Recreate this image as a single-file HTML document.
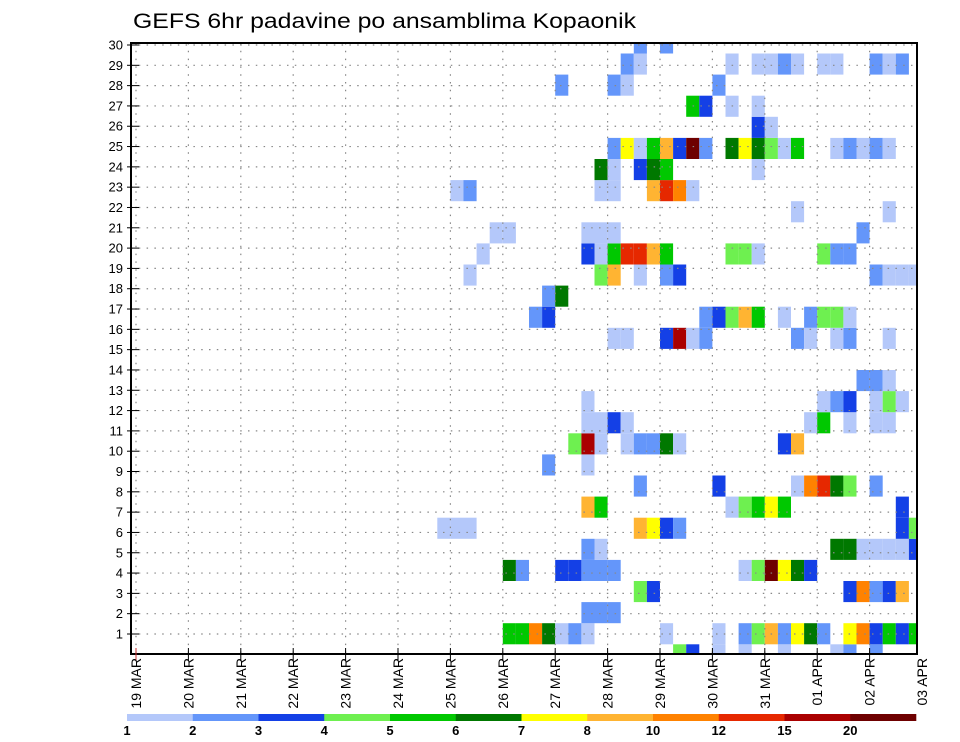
<!DOCTYPE html>
<html><head><meta charset="utf-8"><title>GEFS 6hr padavine</title>
<style>html,body{margin:0;padding:0;background:#fff;}svg{display:block;font-family:"Liberation Sans",sans-serif;}</style>
</head><body>
<svg id="chart" width="960" height="742" viewBox="0 0 960 742" xmlns="http://www.w3.org/2000/svg">
<defs><clipPath id="plotClip"><rect x="131" y="43" width="786" height="611"/></clipPath></defs>
<text x="133" y="28" font-size="21" textLength="503" lengthAdjust="spacingAndGlyphs" fill="#000">GEFS 6hr padavine po ansamblima Kopaonik</text>
<g id="cells" clip-path="url(#plotClip)"></g>
<g id="grid"></g>
<rect x="131" y="43" width="786" height="611" fill="none" stroke="#000" stroke-width="2"/>
<g id="yaxis"></g>
<g id="xaxis"></g>
<g id="legend"></g>
</svg>
<script>
// ---- data ----
const dayLabels = ["19 MAR","20 MAR","21 MAR","22 MAR","23 MAR","24 MAR","25 MAR","26 MAR","27 MAR","28 MAR","29 MAR","30 MAR","31 MAR","01 APR","02 APR","03 APR"];
const yTicks = [1,2,3,4,5,6,7,8,9,10,11,12,13,14,15,16,17,18,19,20,21,22,23,24,25,26,27,28,29,30];
const levelLabels = ["1","2","3","4","5","6","7","8","10","12","15","20"];
const levelColors = ["#b4c8fa","#6496fa","#1440e6","#6ef050","#00c800","#007800","#ffff00","#ffb432","#ff8200","#e62800","#aa0000","#6e0000"];
// cells per ensemble member: "timeStep:colorClass" (timeStep = 6h steps from 19 MAR 00Z)
const member00 = "41:3 42:2 44:0 46:0 49:0 53:0 54:1 56:1";
const member01 = "28:4 29:4 30:8 31:5 32:0 33:1 34:0 40:0 44:0 46:1 47:3 48:7 49:1 50:6 51:5 52:1 54:6 55:8 56:2 57:4 58:2 59:4";
const member02 = "34:1 35:1 36:1";
const member03 = "38:3 39:2 54:2 55:8 56:1 57:2 58:7";
const member04 = "28:5 29:1 32:2 33:2 34:1 35:1 36:1 46:0 47:3 48:11 49:6 50:5 51:2";
const member05 = "34:1 35:0 53:5 54:5 55:0 56:0 57:0 58:0 59:2";
const member06 = "23:0 24:0 25:0 38:7 39:6 40:2 41:1 58:2 59:3";
const member07 = "34:7 35:4 45:0 46:3 47:4 48:6 49:4 58:2";
const member08 = "38:1 44:2 50:0 51:8 52:9 53:5 54:3 56:1";
const member09 = "31:1 34:0";
const member10 = "33:3 34:10 35:0 37:0 38:1 39:1 40:5 41:0 49:2 50:7";
const member11 = "34:0 35:0 36:2 37:0 51:0 52:4 54:0 56:0 57:0";
const member12 = "34:0 52:0 53:1 54:2 56:0 57:3 58:0";
const member13 = "55:1 56:1 57:0";
const member14 = "";
const member15 = "36:0 37:0 40:2 41:10 42:0 43:1 50:1 51:0 53:0 54:1 57:0";
const member16 = "30:1 31:2 43:1 44:2 45:3 46:7 47:4 49:0 51:1 52:3 53:3 54:0";
const member17 = "31:1 32:5";
const member18 = "25:0 35:3 36:7 38:0 40:1 41:2 56:1 57:0 58:0 59:0";
const member19 = "26:0 34:2 35:0 36:4 37:9 38:9 39:7 40:4 45:3 46:3 47:0 52:3 53:1 54:1";
const member20 = "27:0 28:0 34:0 35:0 36:0 55:1";
const member21 = "50:0 57:0";
const member22 = "24:0 25:1 35:0 36:0 39:7 40:9 41:8 42:0";
const member23 = "35:5 36:0 38:2 39:5 40:4 47:0";
const member24 = "36:1 37:6 38:0 39:4 40:7 41:2 42:11 43:1 45:5 46:6 47:5 48:3 49:0 50:4 53:0 54:1 55:0 56:1 57:0";
const member25 = "47:2 48:0";
const member26 = "42:4 43:2 45:0 47:0";
const member27 = "32:1 36:1 37:0 44:1";
const member28 = "37:1 38:0 45:0 47:0 48:0 49:1 50:0 52:0 53:0 56:1 57:0 58:1";
const member29 = "38:1 40:1";
const members = [member00,member01,member02,member03,member04,member05,member06,member07,member08,member09,member10,member11,member12,member13,member14,member15,member16,member17,member18,member19,member20,member21,member22,member23,member24,member25,member26,member27,member28,member29];

// ---- scales ----
const NS = "http://www.w3.org/2000/svg";
const X0 = 136, DAY = 52.4, STEP = DAY/4;
function xTime(step){ return X0 + step*STEP; }
function xDay(d){ return X0 + d*DAY; }
function yTick(v){ return 654.3 - v*20.31; }
const CELL_H = 21.1;
function yCellTop(m){ return 644.3 - m*CELL_H; }
function mk(tag, attrs, parent){ const e=document.createElementNS(NS,tag); for(const k in attrs) e.setAttribute(k,attrs[k]); parent.appendChild(e); return e; }

const cellsG = document.getElementById("cells");
members.forEach((str, m) => {
  if(!str) return;
  str.split(" ").forEach(tok => {
    const [k,c] = tok.split(":").map(Number);
    const r = mk("rect",{x:xTime(k).toFixed(2),y:yCellTop(m).toFixed(2),width:STEP.toFixed(2),height:CELL_H,fill:levelColors[c]},cellsG);
    
    
  });
});

const gridG = document.getElementById("grid");
yTicks.forEach(v => {
  const l = mk("line",{x1:131,x2:917,y1:yTick(v),y2:yTick(v),stroke:"#888","stroke-width":1.2,"stroke-dasharray":"1.5 6.3"},gridG);
  
  
});
dayLabels.forEach((d,i) => {
  const x = xDay(i); if(x>916) return;
  const l = mk("line",{x1:x,x2:x,y1:43,y2:654,stroke:"#888","stroke-width":1.2,"stroke-dasharray":"1.5 6.3"},gridG);
  
  
});

const yG = document.getElementById("yaxis");
yTicks.forEach(v => {
  const y = yTick(v);
  const t = mk("line",{x1:127,x2:139,y1:y,y2:y,stroke:"#000","stroke-width":1},yG);
  
  
  const tx = mk("text",{x:123,y:y+4.5,"text-anchor":"end","font-size":13,fill:"#000"},yG);
  tx.textContent = String(v);
  
  
});

const xG = document.getElementById("xaxis");
dayLabels.forEach((d,i) => {
  const x = xDay(i);
  if(x<=917){
    const t = mk("line",{x1:x,x2:x,y1:648,y2:661,stroke:i===0?"#c33":"#000","stroke-width":1},xG);
    
    
  }
  const tx = mk("text",{x:0,y:0,"text-anchor":"end","font-size":14,fill:"#000",transform:`translate(${(x+5).toFixed(1)},658) rotate(-90)`},xG);
  tx.textContent = d;
  
  
});

const lg = document.getElementById("legend");
const LX0 = 127, LX1 = 916, SEG = (LX1-LX0)/levelColors.length;
levelColors.forEach((c,i) => {
  const r = mk("rect",{x:(LX0+i*SEG).toFixed(2),y:714,width:(SEG+0.3).toFixed(2),height:7,fill:c},lg);
  
  
});
levelLabels.forEach((s,i) => {
  const t = mk("text",{x:(LX0+i*SEG).toFixed(2),y:735,"text-anchor":"middle","font-size":13,"font-weight":"bold",fill:"#000"},lg);
  t.textContent = s;
  
  
});
</script>
</body></html>
